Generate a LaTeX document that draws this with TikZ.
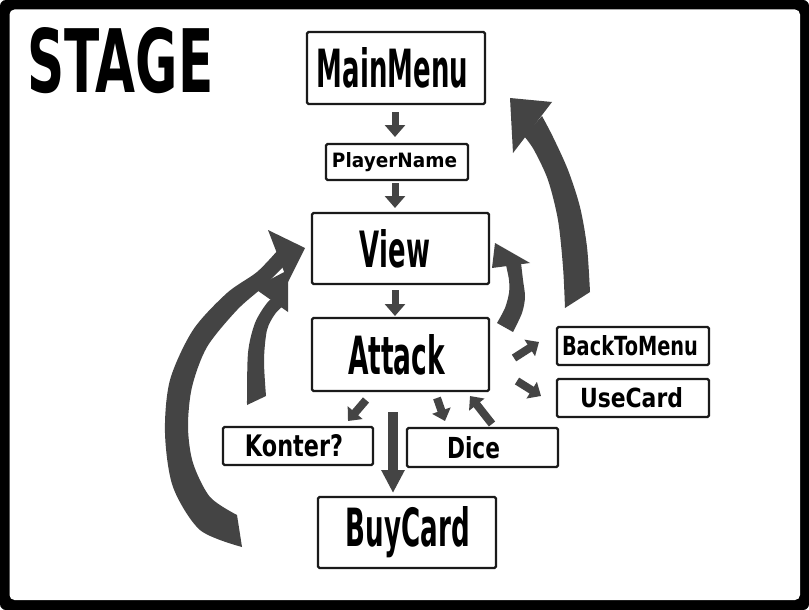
\documentclass[tikz,border=0pt]{standalone}
\usepackage{fontspec}
\setmainfont{DejaVu Sans}
\usepackage{graphicx}
\usetikzlibrary{arrows.meta}
\definecolor{arr}{HTML}{444444}
\definecolor{frm}{HTML}{1A1A1A}
\newcommand\boxtxt[4]{\hspace*{#1}\resizebox{#2}{#3}{\bfseries #4}}
\begin{document}
\begin{tikzpicture}[x=1pt,y=-1pt,
  stbox/.style={draw=frm, line width=2.2pt, rounded corners=1.5pt, fill=white, inner sep=0pt, outer sep=0pt},
  sarrow/.style={draw=arr, line width=7pt, -{Triangle[width=20pt,length=12pt]}},
  darrow/.style={draw=arr, line width=8pt, -{Triangle[width=19pt,length=11pt]}},
  barrow/.style={draw=arr, line width=10pt, -{Triangle[width=22pt,length=23pt]}},
  curvefill/.style={fill=arr}
]
\useasboundingbox (0,0) rectangle (809,610);
% frame
\fill[black, rounded corners=6pt] (0,0) rectangle (809,610);
\fill[white, rounded corners=5pt] (9.5,9.5) rectangle (800,600);

% title
\node[anchor=north west, inner sep=0pt] (stage) at (27,27) {\resizebox{186pt}{65pt}{\bfseries STAGE}};

% curved arrows (drawn below boxes)
% big left: BuyCard -> View
\coordinate (blt) at (240,531);
\fill[curvefill] plot[smooth] coordinates {(242,547) (200,530) (173,487) (165,433) (170,380) (193,330) (227,293) (257,272) (278,250)}
  -- plot[smooth] coordinates {(285,265) (263,287) (237,310) (207,347) (192,387) (188,427) (193,463) (210,497) (237,515)} -- cycle;
\fill[curvefill] (268,230) -- (305,248) -- (288,282) -- cycle;
% small left: Konter -> View
\fill[curvefill] plot[smooth] coordinates {(247,405) (248,353) (255,323) (267,303) (276,296)}
  -- plot[smooth] coordinates {(283,306) (275,314) (267,330) (264,360) (266,396)} -- cycle;
\fill[curvefill] (254,288) -- (288,270) -- (288,312) -- cycle;
% right big: -> MainMenu
\fill[curvefill] plot[smooth] coordinates {(565,308) (563,267) (558,220) (548,180) (534,150) (524,136)}
  -- plot[smooth] coordinates {(542,116) (553,137) (568,170) (580,207) (587,247) (590,292)} -- cycle;
\fill[curvefill] (510,98) -- (552,102) -- (513,153) -- cycle;
% Attack -> View curved
\fill[curvefill] plot[smooth] coordinates {(497,323) (505,308) (509,293) (509,280) (506,265)}
  -- plot[smooth] coordinates {(521,263) (523,280) (525,297) (522,313) (513,332)} -- cycle;
\fill[curvefill] (495,243) -- (530,263) -- (492,268) -- cycle;

% boxes
\node[stbox, minimum width=178pt, minimum height=72pt] (mainmenu) at (396,68) {\boxtxt{-7pt}{151pt}{40pt}{MainMenu}};
\node[stbox, minimum width=142pt, minimum height=36pt] (playername) at (397,162) {\boxtxt{-5pt}{125pt}{15pt}{PlayerName}};
\node[stbox, minimum width=177pt, minimum height=71pt] (view) at (400.5,248.5) {\boxtxt{-11pt}{70pt}{38pt}{View}};
\node[stbox, minimum width=177pt, minimum height=73pt] (attack) at (400.5,354.5) {\boxtxt{-8pt}{97pt}{40pt}{Attack}};
\node[stbox, minimum width=178pt, minimum height=71pt] (buycard) at (407,532.5) {\boxtxt{2pt}{124pt}{40pt}{BuyCard}};
\node[stbox, minimum width=150pt, minimum height=38pt] (konter) at (298,446) {\boxtxt{-8pt}{98pt}{22pt}{Konter?}};
\node[stbox, minimum width=151pt, minimum height=39pt] (dice) at (482.5,447.5) {\boxtxt{-18pt}{53pt}{22pt}{Dice}};
\node[stbox, minimum width=152pt, minimum height=38pt] (backtomenu) at (633,346) {\boxtxt{-6pt}{136pt}{20pt}{BackToMenu}};
\node[stbox, minimum width=152pt, minimum height=38pt] (usecard) at (633,398) {\boxtxt{-3pt}{103pt}{20pt}{UseCard}};

% straight arrows
\draw[sarrow, shorten <=8pt, shorten >=7pt] ([xshift=-1pt]mainmenu.south) -- ([xshift=-2pt]playername.north);
\draw[sarrow, shorten <=3pt, shorten >=5pt] ([xshift=-2pt]playername.south) -- ([xshift=-5.5pt]view.north);
\draw[sarrow, shorten <=6pt, shorten >=2pt] ([xshift=-5.5pt]view.south) -- ([xshift=-5.5pt]attack.north);
\draw[barrow, shorten <=21pt, shorten >=4pt] ([xshift=-7.5pt]attack.south) -- ([xshift=-14pt]buycard.north);

\coordinate (ak1) at (366,400); \coordinate (ak2) at (348,421);
\coordinate (ad1) at (437,398); \coordinate (ad2) at (445,421);
\coordinate (da1) at (492,424); \coordinate (da2) at (470,396);
\coordinate (ab1) at (514,358); \coordinate (ab2) at (539,342);
\coordinate (au1) at (517,381); \coordinate (au2) at (541,396);
\draw[darrow] (ak1) -- (ak2);
\draw[darrow] (ad1) -- (ad2);
\draw[darrow] (da1) -- (da2);
\draw[darrow] (ab1) -- (ab2);
\draw[darrow] (au1) -- (au2);
\end{tikzpicture}
\end{document}
